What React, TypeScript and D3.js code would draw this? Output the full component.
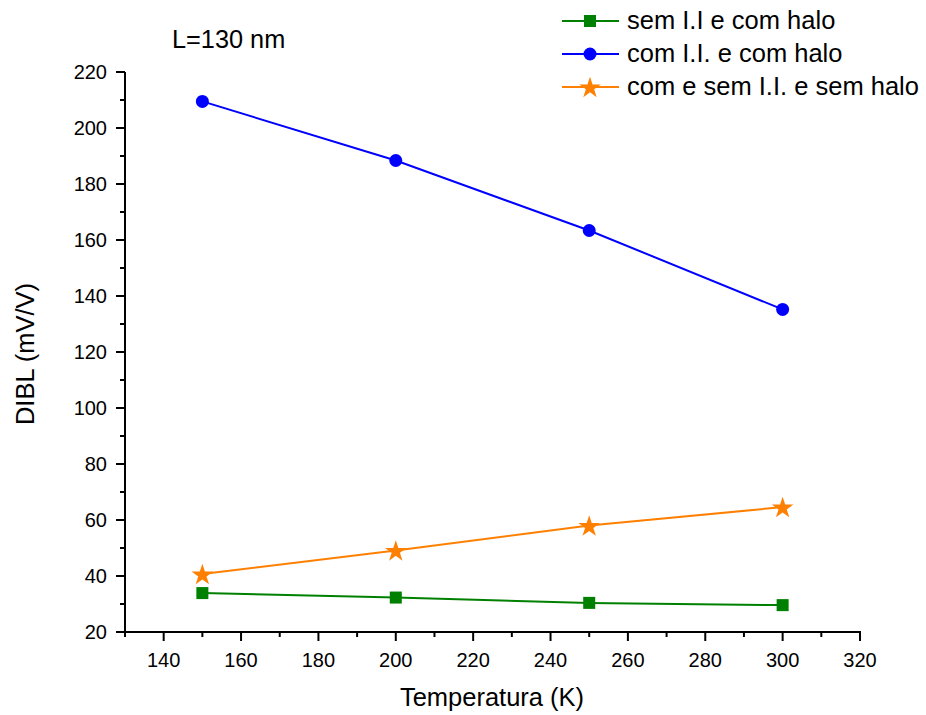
import React from "react";
import * as d3 from "d3";

// Temperatures (K) at which DIBL was measured
const temperatures = [150, 200, 250, 300];

// DIBL (mV/V) per device configuration
const semIIComHalo = [33.9, 32.3, 30.4, 29.6];
const comIIComHalo = [209.5, 188.4, 163.4, 135.2];
const comSemIISemHalo = [40.7, 49.1, 58.0, 64.6];

const seriesNames = [
  "sem I.I e com halo",
  "com I.I. e com halo",
  "com e sem I.I. e sem halo",
];
const seriesColors = ["#008000", "#0000ff", "#ff8000"];
const seriesMarkers = ["square", "circle", "star"];

const xTicks = [140, 160, 180, 200, 220, 240, 260, 280, 300, 320];
const yTicks = [20, 40, 60, 80, 100, 120, 140, 160, 180, 200, 220];

const W = 926;
const H = 715;
const M = { left: 125, right: 860, top: 72, bottom: 632 };
const FONT = "Liberation Sans, Arial, sans-serif";

function Marker({ type, x, y, color }: { type: string; x: number; y: number; color: string }) {
  if (type === "square") {
    return <rect x={x - 6} y={y - 6} width={12} height={12} fill={color} />;
  }
  if (type === "circle") {
    return <circle cx={x} cy={y} r={6.5} fill={color} />;
  }
  const star = d3.symbol().type(d3.symbolStar).size(145)();
  return <path d={star || ""} transform={`translate(${x},${y + 1})`} fill={color} />;
}

export default function App() {
  const x = d3.scaleLinear().domain([130, 320]).range([M.left, M.right]);
  const y = d3.scaleLinear().domain([20, 220]).range([M.bottom, M.top]);
  const allSeries = [semIIComHalo, comIIComHalo, comSemIISemHalo];
  const line = d3
    .line<[number, number]>()
    .x((d) => x(d[0]))
    .y((d) => y(d[1]));

  const xMinor = d3.range(130, 321, 10).filter((v) => !xTicks.includes(v));
  const yMinor = d3.range(30, 221, 20);

  return (
    <svg width={W} height={H} style={{ position: "absolute", left: 0, top: 0 }} fontFamily={FONT}>
      <rect width={W} height={H} fill="#fff" />

      {/* axes */}
      <line x1={M.left} x2={M.left} y1={M.top} y2={M.bottom + 1} stroke="#000" strokeWidth={2} />
      <line x1={M.left - 1} x2={M.right + 1} y1={M.bottom} y2={M.bottom} stroke="#000" strokeWidth={2} />

      {xTicks.map((t) => (
        <g key={"xt" + t}>
          <line x1={x(t)} x2={x(t)} y1={M.bottom} y2={M.bottom + 9} stroke="#000" strokeWidth={2} />
          <text x={x(t)} y={667} textAnchor="middle" fontSize={20}>
            {t}
          </text>
        </g>
      ))}
      {xMinor.map((t) => (
        <line key={"xm" + t} x1={x(t)} x2={x(t)} y1={M.bottom} y2={M.bottom + 5} stroke="#000" strokeWidth={2} />
      ))}

      {yTicks.map((t) => (
        <g key={"yt" + t}>
          <line x1={M.left - 9} x2={M.left} y1={y(t)} y2={y(t)} stroke="#000" strokeWidth={2} />
          <text x={107} y={y(t) + 7} textAnchor="end" fontSize={20}>
            {t}
          </text>
        </g>
      ))}
      {yMinor.map((t) => (
        <line key={"ym" + t} x1={M.left - 5} x2={M.left} y1={y(t)} y2={y(t)} stroke="#000" strokeWidth={2} />
      ))}

      <text x={492} y={706} textAnchor="middle" fontSize={25.5}>
        Temperatura (K)
      </text>
      <text transform={`translate(34,354) rotate(-90)`} textAnchor="middle" fontSize={25.5}>
        DIBL (mV/V)
      </text>

      <text x={172} y={48} fontSize={25.3}>
        L=130 nm
      </text>

      {/* series */}
      {allSeries.map((vals, i) => {
        const pts = temperatures.map((t, j) => [t, vals[j]] as [number, number]);
        return (
          <g key={"s" + i}>
            <path d={line(pts) || ""} fill="none" stroke={seriesColors[i]} strokeWidth={2} />
            {pts.map((p, j) => (
              <Marker key={j} type={seriesMarkers[i]} x={x(p[0])} y={y(p[1])} color={seriesColors[i]} />
            ))}
          </g>
        );
      })}

      {/* legend */}
      {seriesNames.map((name, i) => {
        const ly = 21 + i * 33;
        return (
          <g key={"l" + i}>
            <line x1={562} x2={619} y1={ly} y2={ly} stroke={seriesColors[i]} strokeWidth={2} />
            <Marker type={seriesMarkers[i]} x={590} y={ly} color={seriesColors[i]} />
            <text x={627} y={ly + 8} fontSize={25.5}>
              {name}
            </text>
          </g>
        );
      })}
    </svg>
  );
}
